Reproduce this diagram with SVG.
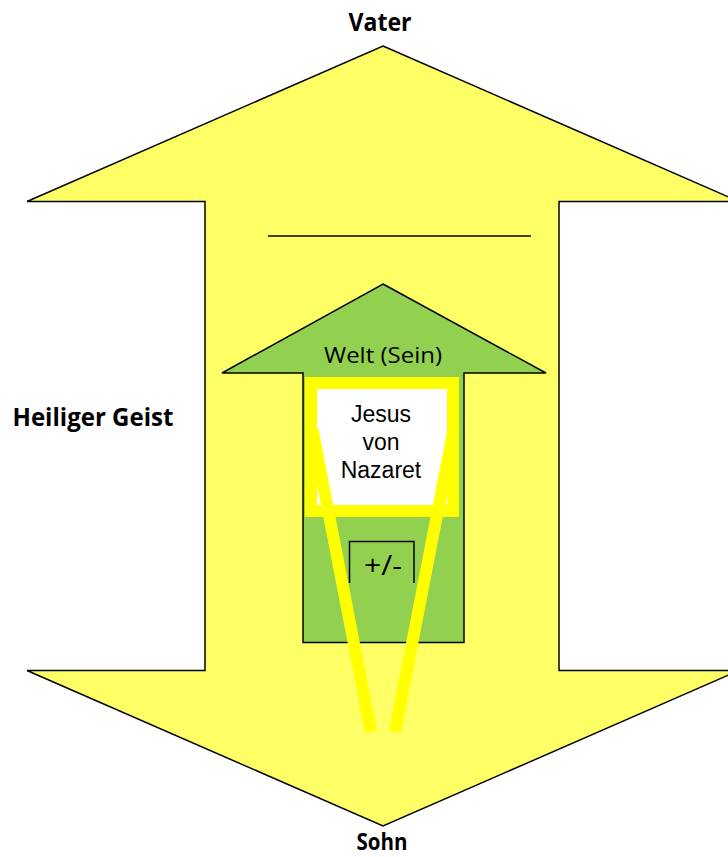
<svg xmlns="http://www.w3.org/2000/svg" width="728" height="857" viewBox="0 0 728 857">
<style>
.outline{stroke:#000;stroke-width:1.5;stroke-linejoin:miter}
.lbl{font-family:"Open Sans","Liberation Sans",sans-serif;font-weight:bold;font-size:25px;fill:#000}
.cal{font-family:"Open Sans","Liberation Sans",sans-serif;font-size:22px;fill:#000}
.ari{font-family:"Liberation Sans",Arial,sans-serif;font-size:23px;fill:#000}
.yl{stroke:#FFFF00;stroke-width:12;fill:none;stroke-linecap:butt}
</style>
<rect width="728" height="857" fill="#fff"/>
<g id="big-arrow">
<polygon class="outline" fill="#FFFF66" points="383,46 739,201.5 559,201.5 559,670.5 739,670.5 383,826 27,670.5 205,670.5 205,201.5 27,201.5"/>
<line x1="268" y1="236" x2="531" y2="236" stroke="#000" stroke-width="1.3"/>
</g>
<g id="welt-arrow">
<polygon class="outline" fill="#92D050" points="383,284 546,373 464,373 464,642.5 303,642.5 303,373 222,373"/>
</g>
<g id="jesus-frame">
<rect x="311" y="383" width="142" height="128" fill="#fff" stroke="#FFFF00" stroke-width="12"/>
</g>
<g id="connectors">
<line class="yl" x1="312.6" y1="430" x2="371" y2="732"/>
<line class="yl" x1="453.4" y1="430" x2="395" y2="732"/>
</g>
<g id="pm-box">
<polyline points="349.5,583 349.5,541.5 414,541.5 414,583" fill="none" stroke="#000" stroke-width="1.5"/>
<text class="cal" x="383" y="575" text-anchor="middle" style="font-size:27px" textLength="38" lengthAdjust="spacingAndGlyphs">+/-</text>
</g>
<g id="labels">
<text class="lbl" x="380" y="30.5" text-anchor="middle" textLength="63" lengthAdjust="spacingAndGlyphs">Vater</text>
<text class="lbl" x="382" y="850" text-anchor="middle" style="font-size:24px" textLength="51" lengthAdjust="spacingAndGlyphs">Sohn</text>
<text class="lbl" x="12.5" y="426" textLength="161" lengthAdjust="spacingAndGlyphs">Heiliger Geist</text>
<text class="cal" x="383" y="363" text-anchor="middle" textLength="118" lengthAdjust="spacingAndGlyphs">Welt (Sein)</text>
<text class="ari" x="381" y="422" text-anchor="middle">Jesus</text>
<text class="ari" x="381" y="449.5" text-anchor="middle">von</text>
<text class="ari" x="381" y="477.5" text-anchor="middle">Nazaret</text>
</g>
</svg>
